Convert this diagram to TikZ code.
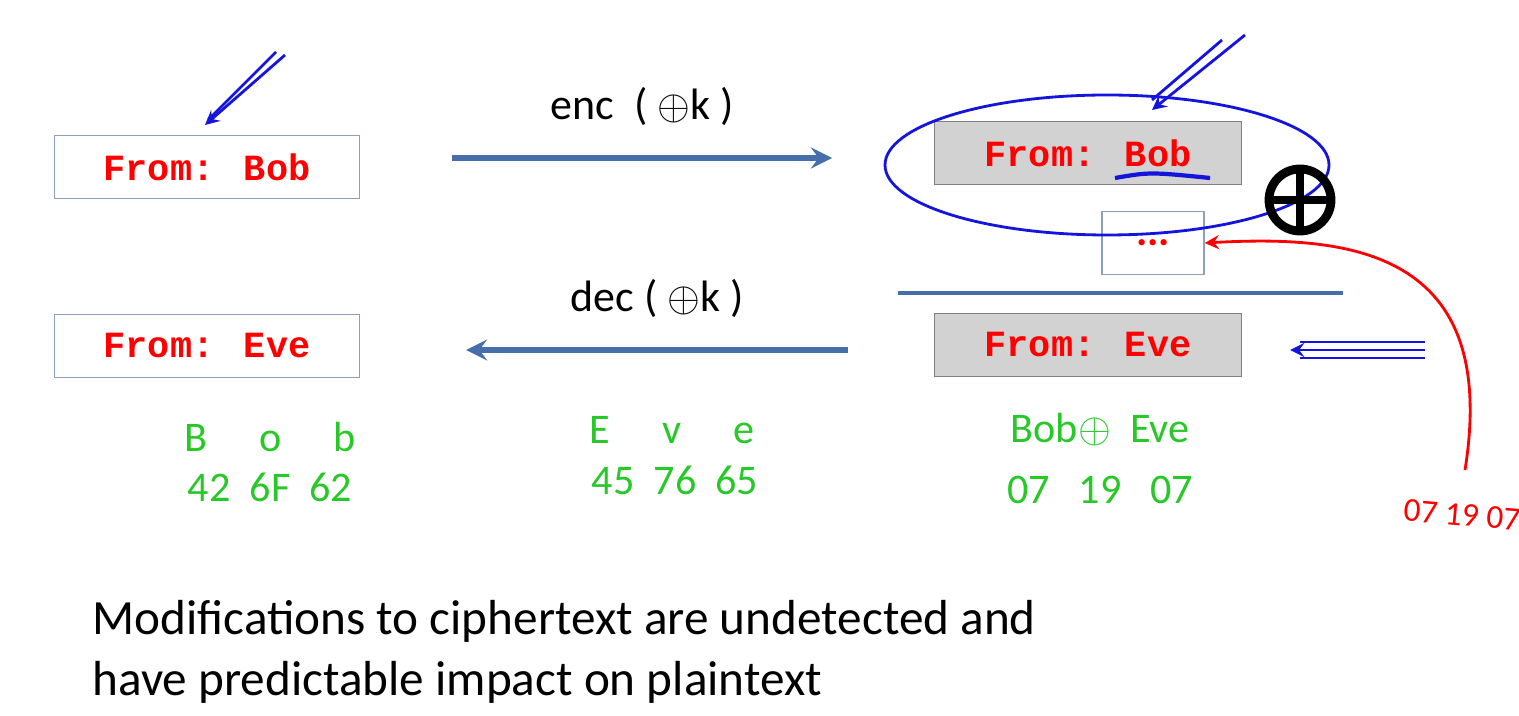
\documentclass[tikz,border=0pt]{standalone}
\usepackage{fontspec}
\setmainfont{Carlito}
\newfontfamily\monofont{Liberation Mono}
\usetikzlibrary{arrows,positioning}
\definecolor{boxline}{RGB}{140,160,190}
\definecolor{arrblue}{RGB}{70,110,170}
\definecolor{pen}{RGB}{20,20,220}
\definecolor{grn}{RGB}{40,200,40}
\tikzset{>=stealth,
  msg/.style={draw=boxline,minimum width=3.05cm,minimum height=0.63cm,
    font=\monofont\bfseries\fontsize{10.5}{12}\selectfont,text=red},
  cmsg/.style={msg,draw=gray,fill=gray!35,minimum width=3.07cm},
  hand/.style={font=\fontsize{12}{14}\selectfont,text=grn},
  lbl/.style={font=\fontsize{12.5}{14}\selectfont}}
\begin{document}
\begin{tikzpicture}[x=0.01cm,y=-0.01cm]
  \useasboundingbox (0,0) rectangle (1519,716);

  % left messages
  \node [msg] (bob) at (207,167) {From: Bob};
  \node [msg] (eve) at (207,346) {From: Eve};

  % right messages
  \node [cmsg] (cbob) at (1088,153) {From: Bob};
  \node [cmsg] (ceve) at (1088,345) {From: Eve};
  \node [msg,minimum width=1.02cm] (dots) at (1153,243) {};
  \node [red,font=\bfseries\fontsize{12}{12}\selectfont] at (1153,243) {...};

  \coordinate (ea) at (452,158);  \coordinate (eb) at (832,158);
  \coordinate (da) at (848,350);  \coordinate (db) at (466,350);
  \draw [ultra thick,arrblue,->] (ea) -- (eb)
    node [lbl,black,midway,above=5pt] {enc \ ( $\oplus$k )};
  \draw [ultra thick,arrblue,->] (da) -- (db)
    node [lbl,black,midway,above=5pt] {dec ( $\oplus$k )};

  \coordinate (la) at (898,293); \coordinate (lb) at (1343,293);
  \draw [very thick,arrblue] (la) -- (lb);

  % pen marks
  \draw [pen,thick] (1107,165) ellipse (222 and 70);
  \draw [pen,very thick] (1115,178) .. controls (1150,172) .. (1210,178);
  \coordinate (h1) at (285,55); \coordinate (h2) at (205,125);
  \draw [pen,thick,->] (h1) -- (h2);
  \draw [pen,thick] (276,52) -- (208,120);
  \coordinate (h3) at (1245,35); \coordinate (h4) at (1152,110);
  \draw [pen,thick,->] (h3) -- (h4);
  \draw [pen,thick] (1222,40) -- (1152,100);
  \coordinate (h5) at (1425,350); \coordinate (h6) at (1290,350);
  \draw [pen,thick,->] (h5) -- (h6);
  \draw [pen,thick] (1425,342) -- (1300,342);
  \draw [pen,thick] (1425,358) -- (1300,358);

  \node [circle,draw,line width=2.5pt,minimum size=0.62cm] (xr) at (1300,200) {};
  \draw [line width=2.5pt] (xr.north) -- (xr.south) (xr.west) -- (xr.east);

  \coordinate (rs) at (1465,470);
  \draw [red,thick,->] (rs) .. controls (1500,250) and (1350,235) .. (dots.east);
  \node [red,font=\fontsize{9.5}{10}\selectfont,rotate=-5] (rk) at (1462,515) {07 19 07};

  % bytes
  \node [hand] (b1) at (270,437) {B \quad o \quad b};
  \node [hand] (b2) at (270,487) {42 \ 6F \ 62};
  \node [hand] (e1) at (672,430) {E \quad v \quad e};
  \node [hand] (e2) at (675,480) {45 \ 76 \ 65};
  \node [hand] (x1) at (1100,430) {Bob$\oplus$ \ Eve};
  \node [hand] (x2) at (1100,490) {07 \ \ 19 \ \ 07};

  \node [anchor=west,align=left,font=\fontsize{14}{17.4}\selectfont] (note) at (80,652)
    {Modifications to ciphertext are undetected and\\have predictable impact on plaintext};
\end{tikzpicture}
\end{document}
